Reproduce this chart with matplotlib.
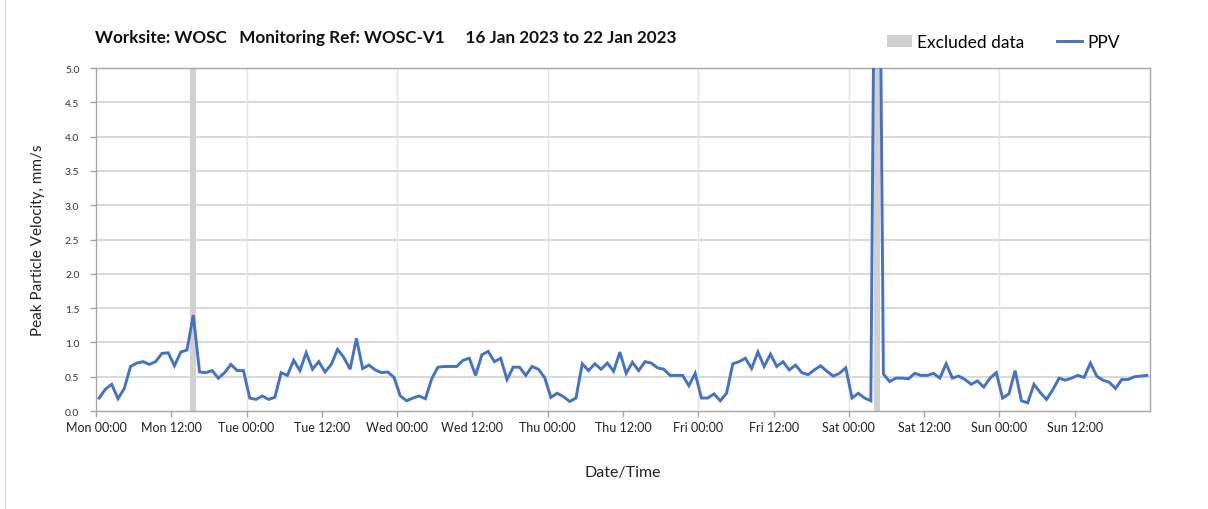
"""PPV weekly chart for worksite WOSC, monitoring ref WOSC-V1."""
import matplotlib
matplotlib.use('Agg')
import matplotlib.pyplot as plt
import numpy as np
from matplotlib.lines import Line2D
from matplotlib.patches import Patch

plt.rcParams['font.family'] = ['Lato', 'DejaVu Sans']

# hourly PPV readings (mm/s), plotted at the middle of each hour from Mon 00:00
PPV = [
    0.19, 0.32, 0.39, 0.18, 0.33, 0.65, 0.70, 0.72, 0.68, 0.72, 0.84, 0.85,
    0.66, 0.86, 0.89, 1.40, 0.57, 0.56, 0.59, 0.48, 0.56, 0.68, 0.59, 0.59,
    0.19, 0.17, 0.22, 0.17, 0.20, 0.56, 0.52, 0.74, 0.59, 0.85, 0.61, 0.72,
    0.57, 0.68, 0.90, 0.78, 0.61, 1.06, 0.62, 0.67, 0.60, 0.56, 0.57, 0.49,
    0.22, 0.15, 0.19, 0.22, 0.18, 0.47, 0.64, 0.65, 0.65, 0.65, 0.74, 0.77,
    0.52, 0.82, 0.87, 0.72, 0.77, 0.46, 0.64, 0.64, 0.52, 0.65, 0.61, 0.49,
    0.20, 0.26, 0.21, 0.14, 0.19, 0.69, 0.59, 0.69, 0.61, 0.70, 0.58, 0.86,
    0.55, 0.71, 0.59, 0.72, 0.70, 0.63, 0.61, 0.52, 0.52, 0.52, 0.37, 0.55,
    0.19, 0.19, 0.25, 0.15, 0.26, 0.69, 0.72, 0.77, 0.62, 0.86, 0.65, 0.83,
    0.65, 0.72, 0.60, 0.67, 0.56, 0.53, 0.60, 0.66, 0.58, 0.51, 0.55, 0.63,
    0.19, 0.26, 0.19, 0.15, 12.0, 0.54, 0.43, 0.48, 0.48, 0.47, 0.55, 0.52,
    0.52, 0.55, 0.48, 0.69, 0.48, 0.51, 0.46, 0.39, 0.44, 0.35, 0.48, 0.56,
    0.19, 0.25, 0.59, 0.15, 0.12, 0.39, 0.27, 0.17, 0.31, 0.48, 0.45, 0.48,
    0.52, 0.49, 0.70, 0.51, 0.45, 0.42, 0.33, 0.46, 0.46, 0.50, 0.51, 0.52,
]
HOURS = np.arange(len(PPV)) + 0.5

# excluded periods, hours from Mon 00:00
EXCL_START = [15, 124]
EXCL_END = [16, 125]

TICK_HOURS = list(range(0, 168, 12))
TICK_LABELS = ['Mon 00:00', 'Mon 12:00', 'Tue 00:00', 'Tue 12:00', 'Wed 00:00',
               'Wed 12:00', 'Thu 00:00', 'Thu 12:00', 'Fri 00:00', 'Fri 12:00',
               'Sat 00:00', 'Sat 12:00', 'Sun 00:00', 'Sun 12:00']

BLUE = '#4472c4'
GREY_BAND = '#d0d0d0'

fig = plt.figure(figsize=(12.08, 5.10), dpi=100)
ax = fig.add_axes([0.0795, 0.192, 0.8725, 0.6727])

for s, e in zip(EXCL_START, EXCL_END):
    ax.axvspan(s, e, color=GREY_BAND, lw=0, zorder=1)
ax.plot(HOURS, PPV, color=BLUE, lw=2.1, zorder=3, solid_joinstyle='miter')

ax.set_xlim(0, 168)
ax.set_ylim(0, 5)
ax.set_yticks(np.arange(0, 5.01, 0.5))
ax.set_yticklabels([f'{v:.1f}' for v in np.arange(0, 5.01, 0.5)], fontsize=7.5, color='#333333')
ax.set_xticks(TICK_HOURS)
ax.set_xticklabels(TICK_LABELS, fontsize=9, color='#222222')

for y in np.arange(0.5, 5.0, 0.5):
    ax.axhline(y, color='#cfcfcf', lw=1.1, zorder=0)
for x in range(24, 168, 24):
    ax.axvline(x, color='#e3e3e3', lw=1.0, zorder=0)

for sp in ax.spines.values():
    sp.set_color('#a6a6a6')
    sp.set_linewidth(1.0)
ax.tick_params(axis='both', length=4, width=1.0, color='#a6a6a6')
ax.tick_params(axis='y', pad=8)

ax.set_ylabel('Peak Particle Velocity, mm/s', fontsize=11, color='#222222', labelpad=14)
ax.set_xlabel('Date/Time', fontsize=11.5, color='#222222', labelpad=23)

fig.text(0.0785, 0.925, 'Worksite: WOSC   Monitoring Ref: WOSC-V1     16 Jan 2023 to 22 Jan 2023',
         fontsize=12.3, fontweight='bold', va='center', ha='left', color='#111111')

handles = [Patch(facecolor=GREY_BAND, edgecolor='none'),
           Line2D([0], [0], color=BLUE, lw=2.1)]
fig.legend(handles, ['Excluded data', 'PPV'], ncol=2, frameon=False,
           loc='center left', bbox_to_anchor=(0.734, 0.916), fontsize=12.5,
           borderpad=0, borderaxespad=0,
           handlelength=1.45, handletextpad=0.3, columnspacing=1.9)

# left border of the chart area
fig.add_artist(Line2D([0.0045, 0.0045], [0, 1], color='#d9d9d9', lw=1.0))

fig.savefig('out.png', dpi=100)
